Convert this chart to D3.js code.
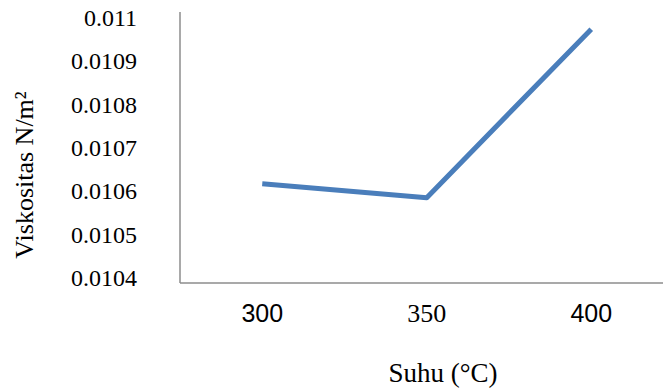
<!DOCTYPE html>
<html>
<head>
<meta charset="utf-8">
<script src="https://cdn.jsdelivr.net/npm/d3@7"></script>
<style>
html,body{margin:0;padding:0;background:#fff;}
svg{display:block;}
</style>
</head>
<body>
<svg id="chart" width="663" height="389"></svg>
<script>
const categories = ["300", "350", "400"];
const viscosity = [0.010615, 0.010583, 0.010972];
const yTicks = [0.0104, 0.0105, 0.0106, 0.0107, 0.0108, 0.0109, 0.011];
const yTickLabels = ["0.0104", "0.0105", "0.0106", "0.0107", "0.0108", "0.0109", "0.011"];
const xTitle = "Suhu (°C)";
const yTitle = "Viskositas N/m²";

(function () {
const svg = d3.select("#chart");
const plotLeft = 180, plotRight = 673.5, plotTop = 12, plotBottom = 283;
const serif = "Liberation Serif, Times New Roman, serif";
const sans = "Liberation Sans, Arial, sans-serif";

const x = d3.scaleBand().domain(categories).range([plotLeft, plotRight]).padding(0);
const y = d3.scaleLinear().domain([0.0104, 0.011]).range([277, 17]);

// frame (axis lines)
svg.append("line").attr("x1", plotLeft).attr("x2", plotLeft).attr("y1", plotTop).attr("y2", plotBottom)
  .attr("stroke", "#8c8c8c").attr("stroke-width", 1.5);
svg.append("line").attr("x1", plotLeft).attr("x2", 663).attr("y1", plotBottom).attr("y2", plotBottom)
  .attr("stroke", "#8c8c8c").attr("stroke-width", 1.5);

// y tick labels
const yAxis = d3.axisLeft(y).tickValues(yTicks).tickSize(0)
  .tickFormat((d, i) => yTickLabels[i]);
const gy = svg.append("g").attr("transform", "translate(137,0)").call(yAxis)
  .attr("font-family", serif).attr("font-size", 24);
gy.select(".domain").remove();
gy.selectAll("text").attr("x", 0).attr("dy", "0.35em")
  .attr("font-family", serif).attr("font-size", 24).attr("fill", "#000");

// x tick labels
const xAxis = d3.axisBottom(x).tickSize(0);
const gx = svg.append("g").call(xAxis).attr("font-family", sans).attr("font-size", 25);
gx.select(".domain").remove();
gx.selectAll("text").attr("y", 322).attr("dy", 0)
  .attr("font-family", d => d === "350" ? serif : sans)
  .attr("font-size", d => d === "350" ? 26 : 25).attr("fill", "#000");

// line
const line = d3.line().x((d, i) => x(categories[i]) + x.bandwidth() / 2).y(d => y(d));
svg.append("path").datum(viscosity).attr("d", line)
  .attr("fill", "none").attr("stroke", "#4a7ebb").attr("stroke-width", 5)
  .attr("stroke-linejoin", "round");

// titles
svg.append("text").attr("x", 443).attr("y", 382).attr("text-anchor", "middle")
  .attr("font-family", serif).attr("font-size", 27)
  .text(xTitle);
svg.append("text").attr("transform", "translate(33,175) rotate(-90)").attr("text-anchor", "middle")
  .attr("font-family", serif).attr("font-size", 26)
  .text(yTitle);
})();
</script>
</body>
</html>
